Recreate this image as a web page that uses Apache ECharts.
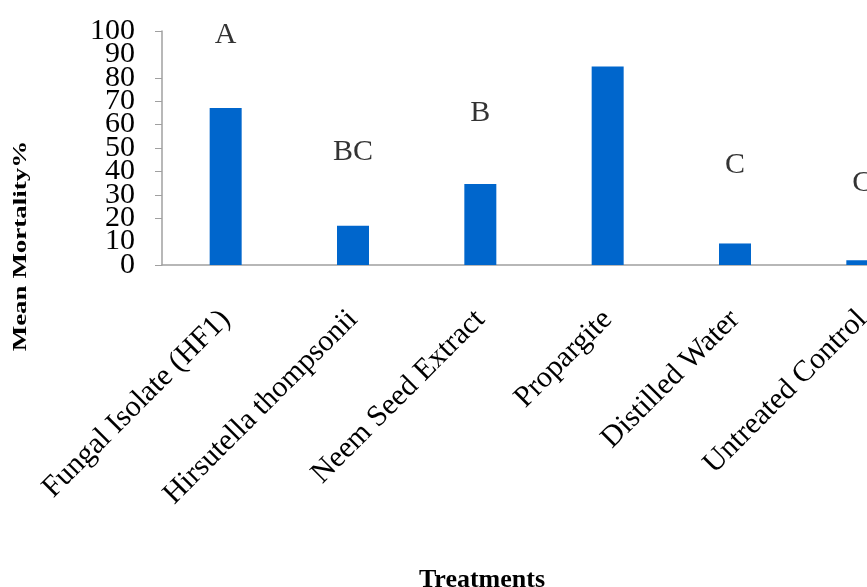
<!DOCTYPE html>
<html>
<head>
<meta charset="utf-8">
<script src="https://cdn.jsdelivr.net/npm/echarts@6/dist/echarts.min.js"></script>
<style>html,body{margin:0;padding:0;background:#fff;overflow:hidden;width:867px;height:587px;}#c{width:926px;height:587px;}</style>
</head>
<body>
<div id="c"></div>
<script>
var categories = ['Fungal Isolate (HF1)', 'Hirsutella thompsonii', 'Neem Seed Extract', 'Propargite', 'Distilled Water', 'Untreated Control'];
var mortality = [67.1, 16.8, 34.6, 84.8, 9.2, 2.0];
var letters = ['A', 'BC', 'B', 'A', 'C', 'C'];
var letterY = [98.2, 48.3, 65.0, 104.6, 42.8, 35.0];
var yTicks = [0, 10, 20, 30, 40, 50, 60, 70, 80, 90, 100];

var serif = '"Liberation Serif", "DejaVu Serif", serif';
var yMin = yTicks[0], yMax = yTicks[yTicks.length - 1];
var chart = echarts.init(document.getElementById('c'));
chart.setOption({
  animation: false,
  backgroundColor: '#fff',
  grid: { left: 162, top: 31, right: 0, bottom: 322, containLabel: false },
  xAxis: {
    type: 'category',
    data: categories,
    axisLine: { lineStyle: { color: '#a0a0a0', width: 1.5 } },
    axisTick: { show: false },
    axisLabel: { rotate: 45, interval: 0, margin: 50, fontFamily: serif, fontSize: 30, color: '#000' }
  },
  yAxis: [
    {
      type: 'value', min: yMin, max: yMax, interval: 10,
      splitLine: { show: false },
      axisLine: { show: true, lineStyle: { color: '#a0a0a0', width: 1.5 } },
      axisTick: { show: true, length: 7, lineStyle: { color: '#a0a0a0' } },
      axisLabel: { margin: 27, fontFamily: serif, fontSize: 30, color: '#000',
                   showMinLabel: true, showMaxLabel: true }
    },
    {
      type: 'value', position: 'left', min: yMin, max: yMax, interval: 10,
      splitLine: { show: false },
      axisLine: { show: false }, axisTick: { show: false },
      axisLabel: { margin: 27, fontFamily: serif, fontSize: 30, color: '#000',
                   showMinLabel: false, showMaxLabel: false,
                   formatter: function (v) { return (v === yTicks[1] || v === yTicks[yTicks.length - 2]) ? String(v) : ''; } }
    }
  ],
  graphic: [
    { type: 'text', x: 21, y: 246, rotation: Math.PI / 2, scaleX: 1.5,
      style: { text: 'Mean Mortality%', font: 'bold 18px ' + serif, fill: '#000', textAlign: 'center', textVerticalAlign: 'middle' } },
    { type: 'text', x: 482, y: 567,
      style: { text: 'Treatments', font: 'bold 26px ' + serif, fill: '#000', textAlign: 'center', textVerticalAlign: 'top' } }
  ],
  series: [
    {
      type: 'bar',
      data: mortality,
      barWidth: 32,
      itemStyle: { color: '#0066cc' }
    },
    {
      type: 'scatter',
      data: letterY.map(function (v, i) { return { value: v, name: letters[i] }; }),
      symbolSize: 0,
      label: { show: true, position: 'inside', formatter: function (p) { return letters[p.dataIndex]; },
               fontFamily: serif, fontSize: 30, color: '#000' }
    }
  ]
});
</script>
</body>
</html>
